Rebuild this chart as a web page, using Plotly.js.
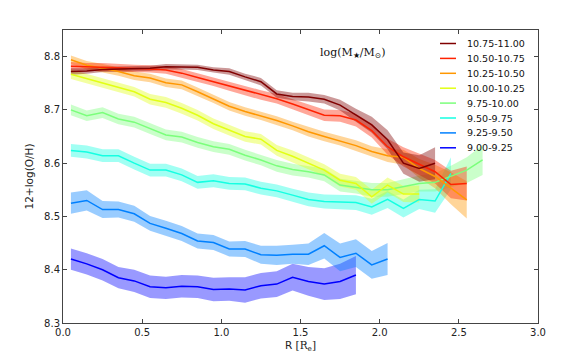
<!DOCTYPE html>
<html><head><meta charset="utf-8">
<script src="https://cdn.plot.ly/plotly-3.0.1.min.js"></script>
<style>html,body{margin:0;padding:0;background:#fff}</style>
</head><body><div id="chart" style="width:586px;height:361px"></div>
<script>
// Radial bins (R / Re)
const radius = [0.05,0.15,0.25,0.35,0.45,0.55,0.65,0.75,0.85,0.95,1.05,1.15,1.25,1.35,1.45,1.55,1.65,1.75,1.85,1.95,2.05,2.15,2.25,2.35,2.45,2.55,2.65];

// Mass bins, log(M*/Msun)
const massLabels = ["10.75-11.00","10.50-10.75","10.25-10.50","10.00-10.25","9.75-10.00","9.50-9.75","9.25-9.50","9.00-9.25"];
const massColors = ["#800000","#ff2200","#ff9700","#e2ff14","#7bff7b","#15ffe2","#0080ff","#0000ff"];

// 12+log(O/H) profiles and 1-sigma half widths
const oh_1075 = [8.772,8.773,8.776,8.777,8.777,8.778,8.781,8.781,8.780,8.775,8.772,8.762,8.753,8.730,8.725,8.724,8.720,8.709,8.690,8.672,8.644,8.600,8.590,8.600];
const err_1075 = [0.006,0.005,0.005,0.005,0.005,0.005,0.005,0.005,0.005,0.005,0.006,0.006,0.007,0.007,0.007,0.008,0.008,0.010,0.012,0.015,0.018,0.020,0.025,0.030];

const oh_1050 = [8.782,8.781,8.781,8.779,8.778,8.777,8.775,8.769,8.761,8.753,8.744,8.736,8.728,8.721,8.711,8.700,8.690,8.689,8.681,8.661,8.631,8.612,8.598,8.584,8.560,8.562];
const err_1050 = [0.008,0.007,0.007,0.007,0.007,0.007,0.007,0.008,0.008,0.008,0.008,0.009,0.009,0.009,0.009,0.010,0.011,0.011,0.012,0.013,0.015,0.018,0.020,0.022,0.026,0.032];

const oh_1025 = [8.794,8.784,8.778,8.772,8.764,8.760,8.751,8.747,8.734,8.721,8.707,8.697,8.689,8.680,8.670,8.659,8.650,8.642,8.633,8.622,8.614,8.611,8.590,8.575,8.553,8.531];
const err_1025 = [0.008,0.008,0.008,0.008,0.008,0.008,0.008,0.008,0.008,0.008,0.008,0.008,0.008,0.008,0.008,0.009,0.009,0.009,0.010,0.010,0.012,0.014,0.018,0.022,0.030,0.035];

const oh_1000 = [8.767,8.759,8.751,8.742,8.734,8.720,8.714,8.703,8.690,8.674,8.662,8.650,8.645,8.624,8.613,8.600,8.587,8.568,8.562,8.537,8.559,8.542,8.542];
const err_1000 = [0.009,0.009,0.009,0.009,0.009,0.010,0.010,0.010,0.010,0.010,0.010,0.010,0.010,0.010,0.011,0.011,0.011,0.012,0.012,0.013,0.014,0.015,0.016];

const oh_975 = [8.700,8.689,8.695,8.683,8.677,8.665,8.653,8.649,8.639,8.631,8.626,8.615,8.606,8.595,8.588,8.584,8.578,8.559,8.555,8.550,8.550,8.556,8.562,8.564,8.575,8.587,8.606];
const err_975 = [0.010,0.010,0.010,0.010,0.010,0.010,0.010,0.010,0.010,0.010,0.010,0.010,0.010,0.011,0.011,0.011,0.012,0.012,0.012,0.013,0.013,0.014,0.015,0.017,0.020,0.024,0.028];

const oh_950 = [8.624,8.621,8.614,8.614,8.600,8.587,8.587,8.578,8.564,8.567,8.562,8.561,8.553,8.548,8.540,8.532,8.528,8.527,8.526,8.518,8.532,8.515,8.532,8.529,8.581];
const err_950 = [0.012,0.012,0.012,0.012,0.012,0.012,0.012,0.012,0.012,0.012,0.012,0.012,0.012,0.012,0.012,0.013,0.013,0.013,0.014,0.015,0.016,0.017,0.018,0.022,0.030];

const oh_925 = [8.525,8.530,8.513,8.513,8.505,8.487,8.478,8.468,8.454,8.451,8.439,8.439,8.428,8.427,8.429,8.429,8.445,8.423,8.431,8.409,8.420];
const err_925 = [0.020,0.019,0.016,0.015,0.015,0.014,0.014,0.014,0.014,0.014,0.014,0.015,0.017,0.018,0.018,0.020,0.024,0.026,0.026,0.026,0.030];

const oh_900 = [8.420,8.411,8.400,8.385,8.379,8.368,8.366,8.369,8.368,8.363,8.364,8.362,8.370,8.373,8.386,8.378,8.373,8.378,8.390];
const err_900 = [0.020,0.020,0.020,0.020,0.021,0.021,0.021,0.021,0.021,0.022,0.022,0.024,0.024,0.024,0.025,0.027,0.030,0.033,0.036];

const profiles = [oh_1075, oh_1050, oh_1025, oh_1000, oh_975, oh_950, oh_925, oh_900];
const errors = [err_1075, err_1050, err_1025, err_1000, err_975, err_950, err_925, err_900];

function rgba(hex, a) {
  const r = parseInt(hex.slice(1,3),16), g = parseInt(hex.slice(3,5),16), b = parseInt(hex.slice(5,7),16);
  return `rgba(${r},${g},${b},${a})`;
}

const traces = [];
// draw lowest mass first so the most massive ends on top
for (let i = profiles.length - 1; i >= 0; i--) {
  const y = profiles[i], e = errors[i];
  const x = radius.slice(0, y.length);
  const up = y.map((v, k) => v + e[k]);
  const lo = y.map((v, k) => v - e[k]);
  traces.push({
    x: x.concat(x.slice().reverse()),
    y: up.concat(lo.slice().reverse()),
    type: 'scatter', mode: 'lines', fill: 'toself',
    fillcolor: rgba(massColors[i], 0.4), line: {width: 0},
    hoverinfo: 'skip', showlegend: false
  });
}
for (let i = profiles.length - 1; i >= 0; i--) {
  const y = profiles[i];
  traces.push({
    x: radius.slice(0, y.length), y: y,
    type: 'scatter', mode: 'lines', name: massLabels[i],
    line: {color: massColors[i], width: 1.5}, showlegend: false
  });
}

// Legend drawn as annotations + shapes (matplotlib-like compact spacing)
const L = 63, T = 30, W = 475, H = 293;
const px2x = p => (p - L) / W;
const py2y = p => (T + H - p) / H;
const shapes = [], annotations = [];
massLabels.forEach((lab, i) => {
  const yy = py2y(43.5 + 14.9 * i);
  shapes.push({type: 'line', xref: 'paper', yref: 'paper', x0: px2x(440), x1: px2x(456), y0: yy, y1: yy,
               line: {color: massColors[i], width: 1.5}});
  annotations.push({xref: 'paper', yref: 'paper', x: px2x(465), y: yy, xanchor: 'left', yanchor: 'middle',
                    text: lab, showarrow: false, font: {family: 'DejaVu Sans', size: 9.5, color: '#111'}});
});
annotations.push({xref: 'paper', yref: 'paper', x: px2x(352), y: py2y(53), xanchor: 'center', yanchor: 'middle',
  text: 'log(M<sub>★</sub>/M<sub>⊙</sub>)', showarrow: false,
  font: {family: 'DejaVu Serif', size: 11, color: '#111'}});

const axisCommon = {
  showgrid: false, zeroline: false, showline: true, linecolor: '#444', linewidth: 1,
  mirror: 'ticks', ticks: 'inside', ticklen: 4, tickcolor: '#444', tickwidth: 1,
  tickformat: '.1f', tickfont: {family: 'DejaVu Sans', size: 10, color: '#222'}
};

const layout = {
  width: 586, height: 361,
  margin: {l: L, r: 586 - L - W, t: T, b: 361 - T - H},
  paper_bgcolor: '#fff', plot_bgcolor: '#fff',
  showlegend: false,
  xaxis: Object.assign({}, axisCommon, {
    range: [0, 3], tick0: 0, dtick: 0.5,
    title: {text: 'R <span style="font-family:DejaVu Serif">[R<sub>e</sub>]</span>', font: {family: 'DejaVu Sans', size: 10.5, color: '#222'}, standoff: 4}
  }),
  yaxis: Object.assign({}, axisCommon, {
    range: [8.3, 8.85], tick0: 8.3, dtick: 0.1,
    title: {text: '12+log(O/H)', font: {family: 'DejaVu Sans', size: 10.5, color: '#222'}, standoff: 8}
  }),
  shapes: shapes, annotations: annotations
};

Plotly.newPlot('chart', traces, layout, {staticPlot: true, displayModeBar: false});
</script></body></html>
